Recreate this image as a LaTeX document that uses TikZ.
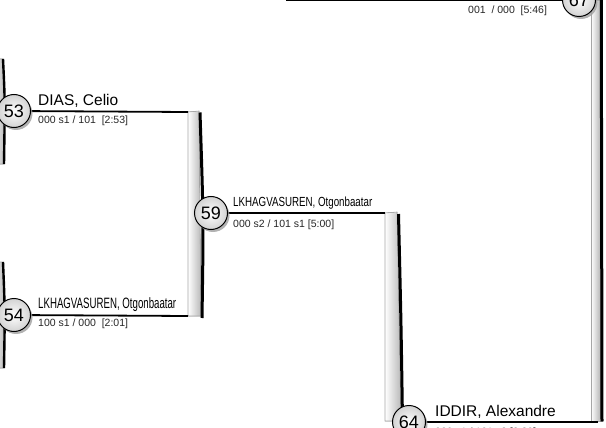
\documentclass[tikz,border=0pt]{standalone}
\usepackage{fontspec}
\setmainfont{Liberation Sans}
\usetikzlibrary{shadows}
\begin{document}
\begin{tikzpicture}[x=1pt,y=-1pt,
  seed/.style={circle, draw=black, line width=1pt, minimum size=33pt, inner sep=0pt,
    inner color=white, outer color=gray!35, font=\fontsize{18}{18}\selectfont,
    drop shadow={shadow xshift=2pt, shadow yshift=-2.5pt, fill=gray!75, opacity=0.8}},
  link/.style={line width=1.8pt, black},
  bigname/.style={anchor=base west, inner sep=0pt, font=\fontsize{15.5}{16}\selectfont},
  narrowname/.style={anchor=base west, inner sep=0pt, font=\fontsize{15}{15}\selectfont},
  score/.style={anchor=base west, inner sep=0pt, font=\fontsize{10.5}{11}\selectfont, text=black!85},
  barfill/.style={left color=white, right color=gray!55, draw=gray!70, line width=0.6pt},
  barshadow/.style={line width=3pt, black}
]
\useasboundingbox (0,0) rectangle (606,428);
\clip (0,0) rectangle (606,428);

% left cut-off bars
\coordinate (l1t) at (3,59);
\coordinate (l1b) at (4,164);
\coordinate (l2t) at (3,262);
\coordinate (l2b) at (4,368);
\fill[barfill] (-10,59) -- (l1t) .. controls (5,100) .. (l1b) -- (-10,164) -- cycle;
\fill[barfill] (-10,262) -- (l2t) .. controls (5,310) .. (l2b) -- (-10,368) -- cycle;
\draw[line width=2.4pt] (l1t) .. controls (5,100) .. (l1b);
\draw[line width=2.4pt] (l2t) .. controls (5,310) .. (l2b);

% bar 53-54
\coordinate (b1t) at (188,112);
\coordinate (b1b) at (188,316);
\fill[barfill] (b1t) -- (199,111) -- (201,316) -- (b1b) -- cycle;
\draw[barshadow] (200,112.5) .. controls (203.5,220) .. (202,318);

% bar 59-64
\coordinate (b2t) at (385,213);
\coordinate (b2b) at (385,421);
\fill[barfill] (b2t) -- (397,212) -- (401,421) -- (b2b) -- cycle;
\draw[barshadow] (398.5,214) .. controls (401,320) .. (402.5,421);

% bar 64-67
\coordinate (b3t) at (591,0);
\coordinate (b3b) at (591,421);
\fill[barfill] (b3t) -- (600,0) -- (600,421) -- (b3b) -- cycle;
\draw[barshadow] (601.3,0) -- (602,421.5);

% circle positions
\coordinate (p53) at (14,111);
\coordinate (p54) at (14,315);
\coordinate (p59) at (211,213);
\coordinate (p64) at (409,422);
\coordinate (p67) at (579,0);
\coordinate (topstart) at (286,0);
\coordinate (b3end) at (598,422);

% connectors
\draw[link] (p53) -- (b1t);
\draw[link] (p54) -- (b1b);
\draw[link] (p59) -- (b2t);
\draw[link] (p64) -- (b3end);
\draw[link] (topstart) -- (p67);

% circles on top
\node[seed] (c53) at (p53) {53};
\node[seed] (c54) at (p54) {54};
\node[seed] (c59) at (p59) {59};
\node[seed] (c64) at (p64) {64};
\node[seed] (c67) at (p67) {67};

% labels
\node[bigname] (n53) at (38,106) {DIAS, Celio};
\node[score] (s53) at (38,124) {000 s1 / 101~~[2:53]};
\node[narrowname] (n54) at (38,308) {\scalebox{0.645}[1]{LKHAGVASUREN, Otgonbaatar}};
\node[score] (s54) at (38,326) {100 s1 / 000~~[2:01]};
\node[narrowname] (n59) at (233,207) {\scalebox{0.65}[0.88]{LKHAGVASUREN, Otgonbaatar}};
\node[score] (s59) at (233,227) {000 s2 / 101 s1 [5:00]};
\node[bigname] (n64) at (435,416) {IDDIR, Alexandre};
\node[score] (s64) at (435,435) {000 s1 / 101 s2 [3:30]};
\node[score] (s67) at (468,14) {001~~/ 000~~[5:46]};
\end{tikzpicture}
\end{document}
